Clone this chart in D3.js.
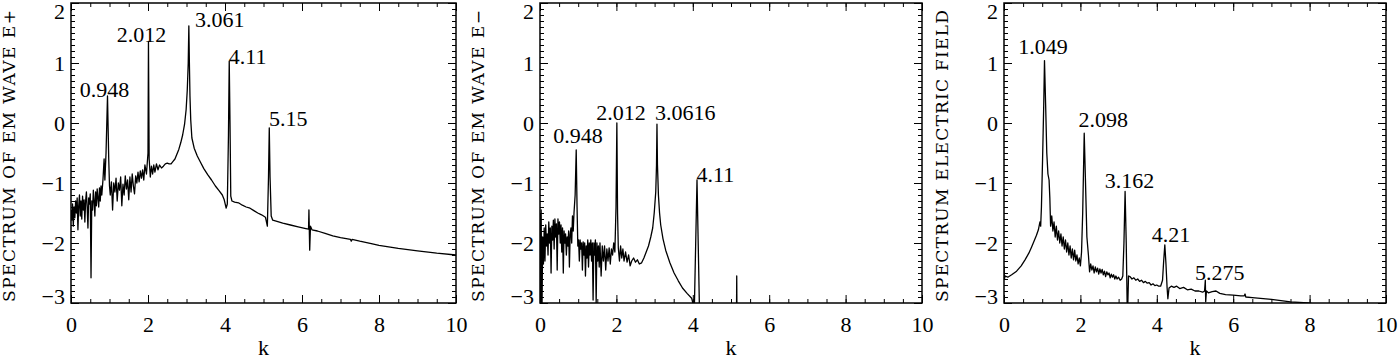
<!DOCTYPE html>
<html>
<head>
<meta charset="utf-8">
<script src="https://cdn.jsdelivr.net/npm/d3@7"></script>
<style>
  body { margin: 0; background: #fff; }
  svg { display: block; }
</style>
</head>
<body>
<svg></svg>
<script>
const width = 1400;
const height = 360;

const svg = d3.select("svg")
    .attr("width", width)
    .attr("height", height);

// ---------------------------- data ----------------------------
// [k, log spectrum]
const emWavePlus = [
    [0.00,-1.45],[0.02,-1.62],[0.04,-1.35],[0.06,-1.72],[0.08,-1.4],[0.10,-1.58],[0.12,-1.3],[0.14,-1.5],
    [0.16,-1.25],[0.18,-1.78],[0.20,-1.38],[0.22,-1.2],[0.24,-1.55],[0.26,-1.3],[0.28,-1.6],[0.30,-1.22],
    [0.32,-1.45],[0.34,-1.28],[0.36,-1.65],[0.38,-1.3],[0.40,-1.15],[0.42,-1.4],[0.44,-1.75],[0.46,-1.25],
    [0.48,-1.35],[0.50,-1.18],[0.52,-2.58],[0.54,-1.3],[0.56,-1.45],[0.58,-1.12],[0.60,-1.3],[0.62,-1.55],
    [0.64,-1.15],[0.66,-1.38],[0.68,-1.1],[0.70,-1.25],[0.72,-1.4],[0.74,-1.08],[0.76,-1.3],[0.78,-1.05],
    [0.80,-1.2],[0.83,-0.95],[0.86,-0.6],[0.88,-0.95],[0.91,-0.5],[0.948,0.45],[0.98,-0.6],[1.00,-1.05],
    [1.02,-1.2],[1.05,-0.98],[1.08,-1.45],[1.11,-1.0],[1.14,-1.15],[1.17,-0.92],[1.20,-1.3],[1.23,-1.0],
    [1.26,-1.12],[1.29,-0.9],[1.32,-1.38],[1.35,-1.02],[1.38,-1.2],[1.41,-0.88],[1.44,-1.1],[1.47,-0.95],
    [1.50,-1.28],[1.53,-0.9],[1.56,-1.15],[1.59,-0.85],[1.62,-1.05],[1.65,-1.18],[1.68,-0.88],[1.71,-1.0],
    [1.74,-0.82],[1.77,-0.98],[1.80,-0.8],[1.83,-0.92],[1.86,-0.78],[1.89,-0.95],[1.92,-0.7],[1.96,-0.85],
    [2.00,-0.5],[2.012,1.36],[2.03,-0.6],[2.06,-0.9],[2.09,-0.72],[2.12,-0.85],[2.15,-0.7],[2.18,-0.82],
    [2.22,-0.68],[2.26,-0.78],[2.30,-0.7],[2.35,-0.75],[2.40,-0.72],[2.45,-0.68],[2.50,-0.67],[2.55,-0.68],
    [2.60,-0.68],[2.65,-0.64],[2.70,-0.6],[2.75,-0.52],[2.80,-0.44],[2.85,-0.33],[2.90,-0.2],[2.95,-0.02],
    [2.99,0.22],[3.02,0.55],[3.045,1.0],[3.061,1.62],[3.075,1.0],[3.09,0.45],[3.11,0.05],[3.14,-0.25],
    [3.20,-0.42],[3.28,-0.55],[3.36,-0.65],[3.45,-0.76],[3.55,-0.86],[3.65,-0.95],[3.75,-1.05],[3.85,-1.13],
    [3.93,-1.2],[3.98,-1.28],[4.03,-1.42],[4.06,-1.35],[4.09,-0.2],[4.11,1.03],[4.13,0.0],[4.15,-1.22],
    [4.18,-1.3],[4.25,-1.32],[4.35,-1.33],[4.45,-1.37],[4.55,-1.4],[4.65,-1.42],[4.75,-1.46],[4.85,-1.5],
    [4.95,-1.53],[5.05,-1.57],[5.10,-1.72],[5.13,-0.9],[5.15,-0.08],[5.17,-0.9],[5.20,-1.55],[5.24,-1.62],
    [5.35,-1.64],[5.5,-1.67],[5.7,-1.7],[5.9,-1.73],[6.1,-1.76],[6.17,-1.77],[6.18,-1.45],[6.20,-2.12],
    [6.22,-1.72],[6.26,-1.78],[6.4,-1.8],[6.6,-1.84],[6.8,-1.88],[7.0,-1.91],[7.26,-1.94],[7.28,-1.97],
    [7.30,-1.94],[7.5,-1.97],[7.8,-2.01],[8.0,-2.04],[8.5,-2.09],[9.0,-2.13],[9.5,-2.17],[10.0,-2.2]
];

const emWaveMinus = [
    [0.00,-1.5],[0.01,-3.3],[0.03,-1.45],[0.05,-3.3],[0.07,-1.9],[0.09,-2.35],[0.11,-1.75],[0.13,-2.3],
    [0.15,-1.7],[0.17,-2.05],[0.19,-1.85],[0.21,-2.2],[0.23,-1.65],[0.25,-2.0],[0.27,-1.75],[0.29,-2.5],
    [0.31,-1.72],[0.33,-1.95],[0.35,-1.62],[0.37,-2.1],[0.39,-1.6],[0.41,-1.9],[0.43,-1.68],[0.45,-2.45],
    [0.47,-1.6],[0.49,-1.85],[0.51,-1.65],[0.53,-2.0],[0.55,-1.7],[0.57,-2.15],[0.59,-1.75],[0.61,-2.5],
    [0.63,-1.8],[0.65,-2.0],[0.67,-1.85],[0.69,-2.2],[0.71,-1.9],[0.73,-2.05],[0.75,-1.8],[0.77,-2.4],
    [0.79,-1.85],[0.81,-1.75],[0.83,-2.0],[0.85,-1.55],[0.87,-1.8],[0.89,-1.5],[0.92,-1.2],[0.948,-0.45],
    [0.97,-1.4],[0.99,-2.05],[1.01,-1.95],[1.03,-2.3],[1.05,-1.95],[1.07,-2.1],[1.09,-2.0],[1.11,-2.45],
    [1.13,-1.98],[1.15,-2.2],[1.17,-2.0],[1.19,-2.55],[1.21,-2.05],[1.23,-2.25],[1.25,-1.95],[1.27,-2.4],
    [1.29,-2.0],[1.31,-2.2],[1.33,-1.95],[1.35,-2.3],[1.37,-2.0],[1.39,-2.95],[1.41,-2.0],[1.43,-2.2],
    [1.45,-1.95],[1.47,-3.0],[1.49,-2.0],[1.51,-2.3],[1.53,-2.05],[1.55,-2.4],[1.57,-2.0],[1.60,-2.55],
    [1.63,-2.05],[1.66,-2.3],[1.69,-2.05],[1.72,-2.45],[1.75,-2.1],[1.78,-2.3],[1.81,-2.08],[1.84,-2.35],
    [1.87,-2.1],[1.90,-2.2],[1.93,-2.0],[1.96,-2.15],[1.99,-1.4],[2.012,0.0],[2.03,-1.5],[2.05,-2.08],
    [2.08,-2.3],[2.11,-2.05],[2.14,-2.25],[2.17,-2.1],[2.20,-2.3],[2.24,-2.15],[2.28,-2.32],[2.32,-2.2],
    [2.36,-2.38],[2.40,-2.3],[2.45,-2.25],[2.50,-2.32],[2.55,-2.28],[2.60,-2.35],[2.66,-2.33],[2.72,-2.25],
    [2.78,-2.15],[2.84,-2.05],[2.90,-1.9],[2.95,-1.75],[2.99,-1.5],[3.03,-1.15],[3.05,-0.7],[3.062,-0.02],
    [3.075,-0.7],[3.10,-1.2],[3.13,-1.5],[3.16,-1.7],[3.22,-1.93],[3.29,-2.12],[3.40,-2.33],[3.51,-2.5],
    [3.62,-2.63],[3.73,-2.75],[3.85,-2.84],[3.97,-2.92],[4.04,-3.1],[4.11,-0.95],[4.18,-3.3],[4.5,-3.6],
    [5.14,-3.6],[5.15,-2.55],[5.16,-3.6],[10.0,-4.0]
];

const electricField = [
    [0.00,-2.38],[0.01,-2.6],[0.03,-2.55],[0.10,-2.57],[0.20,-2.53],[0.33,-2.47],[0.45,-2.38],[0.55,-2.28],
    [0.65,-2.17],[0.72,-2.07],[0.78,-1.98],[0.85,-1.87],[0.90,-1.78],[0.94,-1.65],[0.96,-1.72],[0.98,-1.4],
    [1.01,-0.6],[1.04,0.3],[1.06,1.04],[1.09,0.3],[1.12,-0.5],[1.15,-0.85],[1.18,-0.95],[1.20,-1.25],
    [1.22,-1.72],[1.25,-1.55],[1.28,-1.8],[1.31,-1.65],[1.34,-1.9],[1.37,-1.72],[1.40,-1.95],[1.43,-1.8],
    [1.46,-2.0],[1.49,-1.85],[1.52,-2.05],[1.55,-1.9],[1.58,-2.1],[1.61,-1.95],[1.64,-2.15],[1.67,-2.0],
    [1.70,-2.2],[1.73,-2.05],[1.76,-2.25],[1.79,-2.1],[1.82,-2.28],[1.85,-2.12],[1.88,-2.3],[1.91,-2.2],
    [1.94,-2.35],[1.97,-2.25],[2.00,-2.38],[2.03,-2.15],[2.06,-1.5],[2.10,-0.17],[2.13,-0.9],[2.17,-1.9],
    [2.21,-2.2],[2.24,-2.48],[2.27,-2.35],[2.30,-2.45],[2.33,-2.38],[2.36,-2.5],[2.39,-2.4],[2.42,-2.48],
    [2.45,-2.42],[2.48,-2.52],[2.51,-2.43],[2.54,-2.5],[2.57,-2.44],[2.60,-2.53],[2.63,-2.47],[2.66,-2.56],
    [2.69,-2.48],[2.72,-2.53],[2.75,-2.5],[2.78,-2.58],[2.81,-2.52],[2.84,-2.57],[2.87,-2.53],[2.90,-2.6],
    [2.93,-2.55],[2.96,-2.6],[3.00,-2.57],[3.04,-2.62],[3.08,-2.6],[3.11,-2.55],[3.14,-2.0],[3.17,-1.14],
    [3.20,-2.0],[3.23,-3.3],[3.26,-2.55],[3.30,-2.56],[3.35,-2.6],[3.40,-2.58],[3.45,-2.62],[3.50,-2.6],
    [3.55,-2.64],[3.60,-2.62],[3.65,-2.66],[3.70,-2.64],[3.75,-2.67],[3.80,-2.66],[3.85,-2.7],[3.90,-2.68],
    [3.95,-2.71],[4.00,-2.7],[4.05,-2.72],[4.10,-2.72],[4.15,-2.62],[4.18,-2.3],[4.21,-2.03],[4.24,-2.35],
    [4.27,-2.75],[4.29,-2.93],[4.32,-2.75],[4.38,-2.72],[4.45,-2.74],[4.52,-2.72],[4.60,-2.76],[4.70,-2.74],
    [4.80,-2.78],[4.90,-2.77],[5.00,-2.8],[5.10,-2.8],[5.20,-2.82],[5.25,-2.8],[5.27,-2.62],[5.28,-2.98],
    [5.30,-2.8],[5.35,-2.83],[5.45,-2.81],[5.55,-2.8],[5.65,-2.84],[5.80,-2.86],[6.00,-2.87],[6.20,-2.88],
    [6.29,-2.88],[6.31,-2.85],[6.33,-2.9],[6.50,-2.91],[7.00,-2.94],[7.50,-2.98],[7.96,-3.0],[8.50,-3.05],
    [10.0,-3.15]
];

// peak annotations: text and where it starts, in data units
const emWavePlusPeaks = [
    { text: "0.948", k: 0.23, v: 0.43 },
    { text: "2.012", k: 1.19, v: 1.35 },
    { text: "3.061", k: 3.22, v: 1.6 },
    { text: "4.11", k: 4.1, v: 0.98 },
    { text: "5.15", k: 5.14, v: -0.05 }
];
const emWaveMinusPeaks = [
    { text: "0.948", k: 0.35, v: -0.33 },
    { text: "2.012", k: 1.47, v: 0.05 },
    { text: "3.0616", k: 3.01, v: 0.05 },
    { text: "4.11", k: 4.1, v: -0.98 }
];
const electricFieldPeaks = [
    { text: "1.049", k: 0.37, v: 1.15 },
    { text: "2.098", k: 1.95, v: -0.06 },
    { text: "3.162", k: 2.64, v: -1.09 },
    { text: "4.21", k: 3.87, v: -1.98 },
    { text: "5.275", k: 5.0, v: -2.62 }
];

const xMajorTicks = [0, 2, 4, 6, 8, 10];
const xMinorTicks = d3.range(0, 10.01, 0.5);
const yMajorTicks = [-3, -2, -1, 0, 1, 2];
const yMinorTicks = d3.range(-30, 21, 1).map(d => d / 10);

const panels = [
    { data: emWavePlus, peaks: emWavePlusPeaks, title: "SPECTRUM OF EM WAVE E+", left: 71, right: 456 },
    { data: emWaveMinus, peaks: emWaveMinusPeaks, title: "SPECTRUM OF EM WAVE E\u2212", left: 540, right: 922 },
    { data: electricField, peaks: electricFieldPeaks, title: "SPECTRUM  ELECTRIC FIELD", left: 1004, right: 1386 }
];

const plotTop = 3;
const plotBottom = 303;
const serif = "'Liberation Serif', 'Times New Roman', serif";
const fontSize = 22;

svg.append("rect").attr("width", width).attr("height", height).attr("fill", "#fff");

// ---------------------------- one panel ----------------------------
function drawPanel(p, i) {
    const x = d3.scaleLinear().domain([0, 10]).range([p.left, p.right]);
    const y = d3.scaleLinear().domain([-3, 2]).range([plotBottom, plotTop]);

    const g = svg.append("g").attr("class", "panel");

    const clipId = "clip" + i;
    svg.append("clipPath").attr("id", clipId)
        .append("rect")
        .attr("x", p.left).attr("y", plotTop)
        .attr("width", p.right - p.left).attr("height", plotBottom - plotTop);

    const line = d3.line()
        .x(d => x(d[0]))
        .y(d => y(d[1]));

    g.append("path")
        .datum(p.data)
        .attr("clip-path", `url(#${clipId})`)
        .attr("fill", "none")
        .attr("stroke", "#000")
        .attr("stroke-width", 1.3)
        .attr("stroke-linejoin", "round")
        .attr("d", line);

    // axes, ticks pointing inward
    const axisStyle = sel => {
        sel.select(".domain").remove();
        sel.selectAll(".tick line").attr("stroke", "#000").attr("stroke-width", 1);
        sel.selectAll(".tick text")
            .attr("font-family", serif)
            .attr("font-size", fontSize)
            .attr("fill", "#000");
    };
    const intFormat = d3.format("d");

    g.append("g").attr("transform", `translate(0,${plotBottom})`)
        .call(d3.axisBottom(x).tickValues(xMajorTicks).tickSize(-8).tickPadding(13).tickFormat(intFormat))
        .call(axisStyle);
    g.append("g").attr("transform", `translate(0,${plotBottom})`)
        .call(d3.axisBottom(x).tickValues(xMinorTicks).tickSize(-4).tickFormat(""))
        .call(axisStyle);
    g.append("g").attr("transform", `translate(0,${plotTop})`)
        .call(d3.axisTop(x).tickValues(xMajorTicks).tickSize(-8).tickFormat(""))
        .call(axisStyle);
    g.append("g").attr("transform", `translate(0,${plotTop})`)
        .call(d3.axisTop(x).tickValues(xMinorTicks).tickSize(-4).tickFormat(""))
        .call(axisStyle);

    const left = g.append("g").attr("transform", `translate(${p.left},0)`)
        .call(d3.axisLeft(y).tickValues(yMajorTicks).tickSize(-8).tickPadding(6).tickFormat(intFormat))
        .call(axisStyle);
    // the end labels sit inside the frame
    left.selectAll(".tick text")
        .attr("dy", d => d === 2 ? "0.7em" : d === -3 ? "0em" : "0.32em");

    g.append("g").attr("transform", `translate(${p.left},0)`)
        .call(d3.axisLeft(y).tickValues(yMinorTicks).tickSize(-4).tickFormat(""))
        .call(axisStyle);
    g.append("g").attr("transform", `translate(${p.right},0)`)
        .call(d3.axisRight(y).tickValues(yMajorTicks).tickSize(-8).tickFormat(""))
        .call(axisStyle);
    g.append("g").attr("transform", `translate(${p.right},0)`)
        .call(d3.axisRight(y).tickValues(yMinorTicks).tickSize(-4).tickFormat(""))
        .call(axisStyle);

    g.append("rect")
        .attr("x", p.left).attr("y", plotTop)
        .attr("width", p.right - p.left).attr("height", plotBottom - plotTop)
        .attr("fill", "none")
        .attr("stroke", "#000")
        .attr("stroke-width", 1.5);

    // peak labels
    g.selectAll(".peak")
        .data(p.peaks)
        .enter().append("text")
        .attr("class", "peak")
        .attr("x", d => x(d.k))
        .attr("y", d => y(d.v))
        .attr("font-family", serif)
        .attr("font-size", fontSize)
        .text(d => d.text);

    // axis titles
    g.append("text")
        .attr("x", (p.left + p.right) / 2)
        .attr("y", 355)
        .attr("text-anchor", "middle")
        .attr("font-family", serif)
        .attr("font-size", fontSize)
        .text("k");

    g.append("text")
        .attr("transform", `translate(${p.left - 56},${(plotTop + plotBottom) / 2 + 3}) rotate(-90)`)
        .attr("text-anchor", "middle")
        .attr("font-family", "'DejaVu Serif', serif")
        .attr("font-size", 17)
        .attr("textLength", 292)
        .attr("lengthAdjust", "spacing")
        .text(p.title);
}

panels.forEach(drawPanel);
</script>
</body>
</html>
